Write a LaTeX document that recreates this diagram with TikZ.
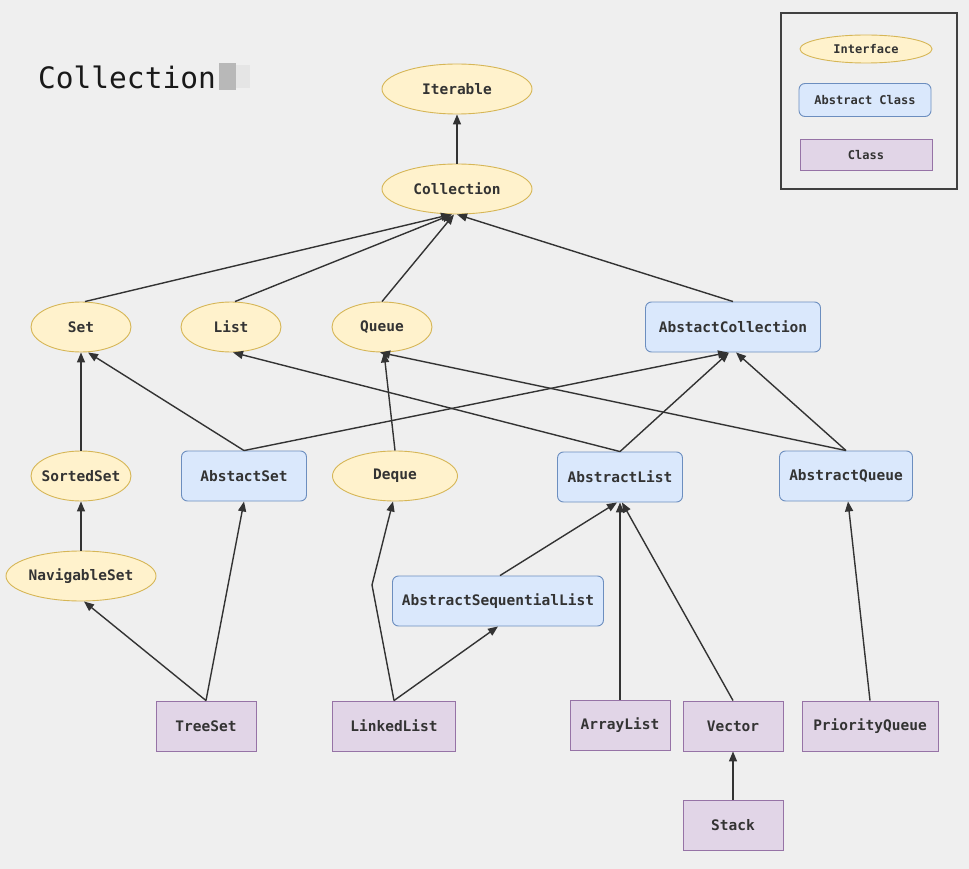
\documentclass[tikz,border=0pt]{standalone}
\usepackage{fontspec}
\usetikzlibrary{arrows.meta,shapes.geometric}
\newfontfamily\codefont{DejaVu Sans Mono}
\definecolor{bg}{HTML}{EFEFEF}
\definecolor{ifill}{HTML}{FFF2CC}
\definecolor{idraw}{HTML}{D6B656}
\definecolor{afill}{HTML}{DAE8FC}
\definecolor{adraw}{HTML}{6C8EBF}
\definecolor{cfill}{HTML}{E1D5E7}
\definecolor{cdraw}{HTML}{9673A6}
\definecolor{txt}{HTML}{333333}
\begin{document}
\begin{tikzpicture}[x=1pt,y=-1pt,
  base/.style={inner sep=0pt, line width=0.9pt, text=txt,
    font=\codefont\bfseries\fontsize{14.5}{17}\selectfont},
  iface/.style={base, ellipse, inner xsep=-8pt, draw=idraw, fill=ifill, minimum height=50pt},
  absc/.style={base, rectangle, rounded corners=6pt, draw=adraw, fill=afill, minimum height=50pt},
  cls/.style={base, rectangle, draw=cdraw, fill=cfill, minimum height=50pt},
  leg/.style={font=\codefont\bfseries\fontsize{12}{14}\selectfont},
  arr/.style={-{Triangle[length=10pt,width=8pt]}, line width=1.4pt, draw=black!80}
]
\fill[bg] (0,0) rectangle (969,869);
\useasboundingbox (0,0) rectangle (969,869);

% title
\node[anchor=west, inner sep=0pt, font=\codefont\fontsize{29.5}{34}\selectfont, text=black!90] (title) at (38,77) {Collection};
\fill[black!28] (219,63) rectangle (236,90);
\fill[black!10] (236,65) rectangle (250,88);

% legend
\draw[line width=1.2pt, draw=black!75] (781,13) rectangle (957,189);
\node[iface, leg, minimum width=132pt, minimum height=28pt] (lI) at (866,49) {Interface};
\node[absc, leg, minimum width=132pt, minimum height=33pt] (lA) at (865,100) {Abstract Class};
\node[cls, leg, minimum width=132pt, minimum height=31pt] (lC) at (866,155) {Class};

% interfaces
\node[iface, minimum width=150pt] (iter) at (457,89) {Iterable};
\node[iface, minimum width=150pt] (coll) at (457,189) {Collection};
\node[iface, minimum width=100pt] (set) at (81,327) {Set};
\node[iface, minimum width=100pt] (list) at (231,327) {List};
\node[iface, minimum width=100pt] (queue) at (382,327) {Queue};
\node[iface, minimum width=100pt] (sorted) at (81,476) {SortedSet};
\node[iface, minimum width=125pt] (deque) at (395,476) {Deque};
\node[iface, minimum width=150pt] (nav) at (81,576) {NavigableSet};

% abstract classes
\node[absc, minimum width=175pt] (acoll) at (733,327) {AbstactCollection};
\node[absc, minimum width=125pt] (aset) at (244,476) {AbstactSet};
\node[absc, minimum width=125pt] (alist) at (620,477) {AbstractList};
\node[absc, minimum width=133pt] (aqueue) at (846,476) {AbstractQueue};
\node[absc, minimum width=211pt] (aseq) at (498,601) {AbstractSequentialList};

% classes
\node[cls, minimum width=100pt] (tree) at (206,726) {TreeSet};
\node[cls, minimum width=123pt] (linked) at (394,726) {LinkedList};
\node[cls, minimum width=100pt] (array) at (620,725) {ArrayList};
\node[cls, minimum width=100pt] (vector) at (733,726) {Vector};
\node[cls, minimum width=136pt] (pq) at (870,726) {PriorityQueue};
\node[cls, minimum width=100pt] (stack) at (733,825) {Stack};

% connectors
\draw[arr] (coll.north) -- (iter.south);
\draw[arr] ([xshift=4pt]set.north) -- ([xshift=-6pt]coll.south);
\draw[arr] ([xshift=4pt]list.north) -- ([xshift=-5pt]coll.south);
\draw[arr] (queue.north) -- ([xshift=-3pt]coll.south);
\draw[arr] (acoll.north) -- ([xshift=0pt]coll.south);

\draw[arr] (sorted.north) -- (set.south);
\draw[arr] (aset.north) -- ([xshift=7pt]set.south);
\draw[arr] (aset.north) -- ([xshift=-5pt]acoll.south);
\draw[arr] (deque.north) -- ([xshift=2pt]queue.south);
\draw[arr] (alist.north) -- ([xshift=2pt]list.south);
\draw[arr] (alist.north) -- ([xshift=-4pt]acoll.south);
\draw[arr] (aqueue.north) -- ([xshift=-2pt]queue.south);
\draw[arr] (aqueue.north) -- ([xshift=3pt]acoll.south);

\draw[arr] (nav.north) -- (sorted.south);
\draw[arr] (tree.north) -- ([xshift=3pt]nav.south);
\draw[arr] (tree.north) -- (aset.south);
\coordinate (bend) at (372,585);
\draw[arr] (linked.north) -- (bend) -- ([xshift=-2pt]deque.south);
\draw[arr] (linked.north) -- (aseq.south);
\draw[arr] ([xshift=2pt]aseq.north) -- ([xshift=-3pt]alist.south);
\draw[arr] (array.north) -- (alist.south);
\draw[arr] (vector.north) -- ([xshift=2pt]alist.south);
\draw[arr] (stack.north) -- (vector.south);
\draw[arr] (pq.north) -- ([xshift=2pt]aqueue.south);
\end{tikzpicture}
\end{document}
